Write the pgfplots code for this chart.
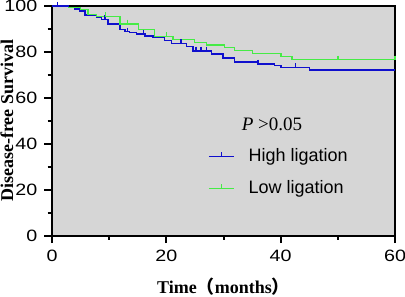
\documentclass[border=0pt]{standalone}
\usepackage{fontspec}
\setmainfont{Liberation Serif}
\newfontfamily\arial{Liberation Sans}
\newfontfamily\arialw{Liberation Sans}[FakeStretch=1.2]
\newfontfamily\cjk{Noto Sans CJK SC}
\usepackage{pgfplots}
\pgfplotsset{compat=1.18}
\definecolor{bg}{RGB}{214,214,214}
\definecolor{kmblue}{RGB}{15,15,205}
\definecolor{kmgreen}{RGB}{70,235,70}
\begin{document}
\begin{tikzpicture}
\useasboundingbox (-26pt,-30.25pt) rectangle (176.5pt,117.75pt);
\begin{axis}[
  scale only axis, width=171.5pt, height=114.75pt,
  xmin=0, xmax=60, ymin=0, ymax=100,
  axis lines*=left,
  axis line style={line width=1pt, black},
  axis background/.style={fill=bg},
  xtick={0,20,40,60}, ytick={0,20,40,60,80,100},
  minor x tick num=1, minor y tick num=1,
  tick align=outside,
  major tick length=3.8pt, minor tick length=2.2pt,
  tick style={line width=1pt, black},
  /pgf/number format/assume math mode=true,
  ticklabel style={font=\arialw\fontsize{8.2}{10}\selectfont},
  every axis y label/.style={at={(rel axis cs:0,0.5)}, xshift=-22.5pt, rotate=90, anchor=center, font=\bfseries\fontsize{9}{10}\selectfont},
  every axis x label/.style={at={(rel axis cs:0.5,0)}, yshift=-25.75pt, anchor=center, font=\bfseries\fontsize{9}{10}\selectfont},
  xlabel={Time{\cjk （}months{\cjk ）}},
  ylabel={Disease-free Survival},
  legend style={draw=none, fill=none, at={(0.454,0.275)}, anchor=west,
    font=\arial\fontsize{9}{10.8}\selectfont, row sep=4pt, inner sep=0pt,
    /tikz/every odd column/.style={column sep=5pt}},
  legend cell align=left,
  legend image code/.code={\draw[#1] (0pt,0pt) -- (12.5pt,0pt); \draw[#1] (6.25pt,0pt) -- (6.25pt,2pt);},
  clip=false,
]
\draw[black, line width=0.7pt] (rel axis cs:0,1) -- (rel axis cs:1,1) -- (rel axis cs:1,0);
\addplot[kmblue, line width=0.75pt, const plot] coordinates {
(0,100) (2.9,99.4) (4.0,98.7) (4.9,97.9) (5.8,96.1) (7.8,95.0) (8.7,94.2)
(9.8,92.1) (11.9,89.8) (12.8,88.8) (13.6,88.4) (14.8,87.8) (16.3,86.9)
(17.7,86.2) (19.7,85.0) (20.9,83.7) (23.5,82.3) (24.7,80.5) (27.9,79.1)
(29.9,77.4) (31.9,75.5) (36.0,74.8) (38.9,74.0) (40.1,73.3) (45.0,72.1) (60,72.1)};
\addlegendentry{High ligation}
\addplot[kmgreen, line width=0.75pt, const plot] coordinates {
(0,100) (2.9,99.4) (5.0,98.4) (6.3,96.4) (7.8,95.5) (11.9,92.2) (15.1,89.8)
(17.9,86.8) (21.2,85.4) (24.9,84.0) (27.0,83.0) (30.2,81.9) (31.9,80.7)
(35.1,79.3) (40.1,78.0) (42.0,76.6) (60,76.6)};
\addlegendentry{Low ligation}
\addplot[kmblue, line width=0.75pt, const plot, forget plot] coordinates {(0,100) (2.9,100)};
\addplot[kmblue, only marks, mark=|, mark size=1.1pt, mark options={line width=0.75pt, yshift=1pt}, forget plot] coordinates {
(1,100) (9.3,94.2) (13.2,88.8) (16.0,87.8) (22.6,83.7) (25.2,80.5) (26.1,80.5) (27.0,80.5) (36.0,74.8) (42.6,73.3)};
\addplot[kmgreen, only marks, mark=|, mark size=1.1pt, mark options={line width=0.75pt, yshift=1pt}, forget plot] coordinates {
(9.4,95.5) (13.2,92.2) (20,86.8) (50,76.6) (60,76.6)};
\node[anchor=west, font=\fontsize{9.5}{11}\selectfont] at (rel axis cs:0.533,0.485) {\textit{P} >0.05};
\end{axis}
\end{tikzpicture}
\end{document}
